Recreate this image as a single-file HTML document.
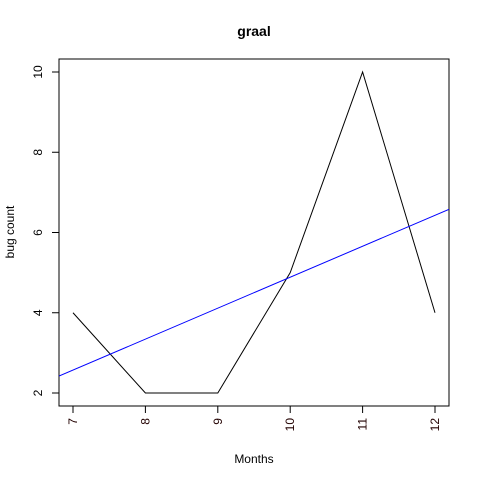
<!DOCTYPE html>
<html><head><style>body{margin:0;background:#fff}svg{display:block}</style></head>
<body>
<svg width="480" height="480" font-family="Liberation Sans, sans-serif">
<rect width="480" height="480" fill="#fff"/>
<text x="254" y="36" text-anchor="middle" font-weight="bold" font-size="14">graal</text>
<rect x="59" y="59" width="390" height="347" fill="none" stroke="#000"/>
<g id="xaxis"></g>
<g id="yaxis"></g>
<text x="254" y="463" text-anchor="middle" font-size="12">Months</text>
<text transform="translate(14,232) rotate(-90)" text-anchor="middle" font-size="12">bug count</text>
<g id="marks"></g>
</svg>
<script>
const months=[7,8,9,10,11,12];
const bugs=[4,2,2,5,10,4];
const yTicks=[2,4,6,8,10];
const NS="http://www.w3.org/2000/svg";
const X0=59,X1=449,Y0=59,Y1=406;
const sx=v=>73+(v-7)*72.4;
const sy=v=>393-(v-2)*40.125;
function mk(t,a,p){const e=document.createElementNS(NS,t);for(const k in a)e.setAttribute(k,a[k]);p.appendChild(e);return e;}
const xa=document.getElementById('xaxis'),ya=document.getElementById('yaxis'),m=document.getElementById('marks');
months.forEach(v=>{const x=sx(v);
const t=mk('line',{x1:x,x2:x,y1:Y1,y2:Y1+7,stroke:'#000'},xa);


const l=mk('text',{transform:`translate(${x+4},418) rotate(-90)`,'text-anchor':'end','font-size':'12',fill:'#200'},xa);
l.textContent=v;

});
yTicks.forEach(v=>{const y=sy(v);
const t=mk('line',{x1:X0-7,x2:X0,y1:y,y2:y,stroke:'#000'},ya);


const l=mk('text',{transform:`translate(42,${y}) rotate(-90)`,'text-anchor':'middle','font-size':'12'},ya);
l.textContent=v;

});
const line=mk('polyline',{points:months.map((v,i)=>sx(v)+','+sy(bugs[i])).join(' '),fill:'none',stroke:'#000'},m);


const n=months.length,mx=months.reduce((a,b)=>a+b)/n,my=bugs.reduce((a,b)=>a+b)/n;
let sxy=0,sxx=0;months.forEach((v,i)=>{sxy+=(v-mx)*(bugs[i]-my);sxx+=(v-mx)**2;});
const b=sxy/sxx,a=my-b*mx;
const xl=7+(X0-73)/72.4,xr=7+(X1-73)/72.4;
const cp=mk('clipPath',{id:'c'},m);mk('rect',{x:X0,y:Y0,width:X1-X0,height:Y1-Y0},cp);
const r=mk('line',{x1:X0,x2:X1,y1:sy(a+b*xl),y2:sy(a+b*xr),stroke:'#00f','clip-path':'url(#c)'},m);


</script>
</body></html>
